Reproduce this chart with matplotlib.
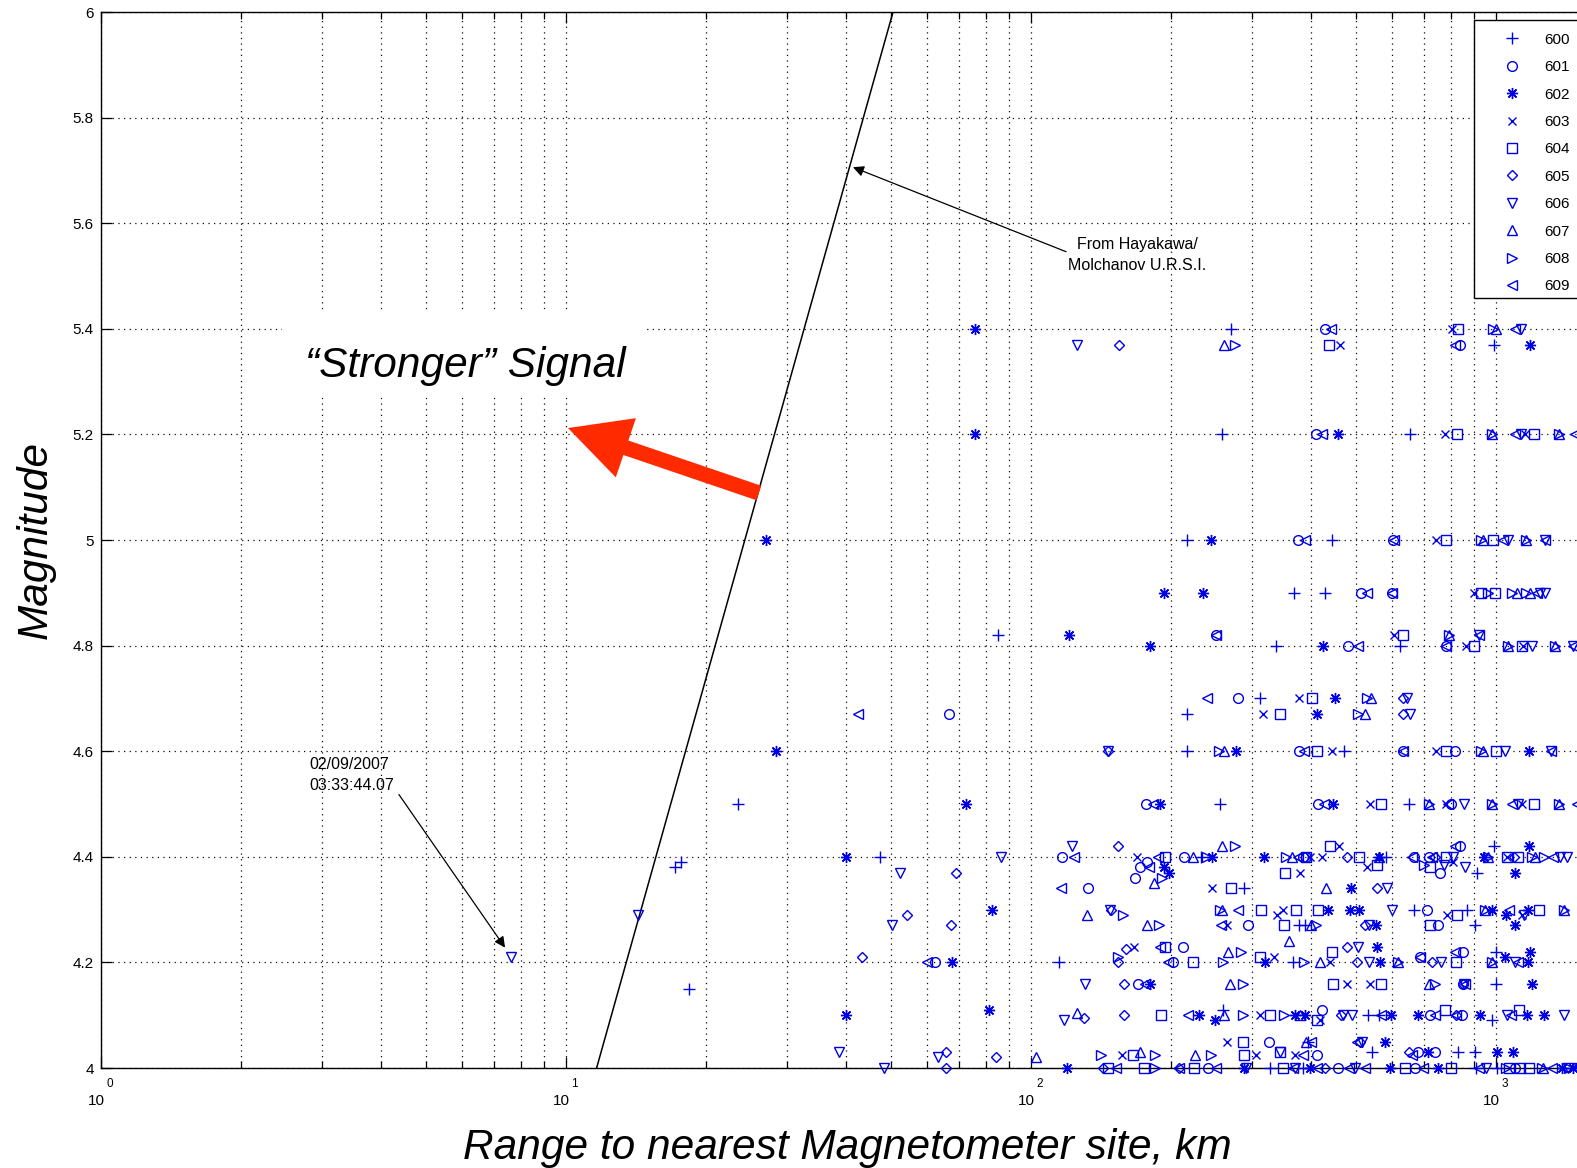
import matplotlib.pyplot as plt
from matplotlib.patches import Rectangle, FancyArrowPatch, ArrowStyle
from matplotlib.ticker import NullFormatter

plt.rcParams['font.family'] = ['Liberation Sans', 'DejaVu Sans']

# ---------------------------------------------------------------------------
# Data: range to nearest magnetometer site (km) and magnitude, per station
# ---------------------------------------------------------------------------
r600 = [270, 993, 258, 653, 217, 445, 368, 430, 85, 337, 622, 311, 217, 217, 473, 23.5, 255, 650, 993, 47.5,
        17.2, 17.7, 232, 580, 912, 18.4, 288, 868, 378, 905, 389, 668, 115, 366, 1000, 1000, 259, 532, 562, 981,
        395, 542, 832, 905, 327, 386, 907, 1008]
m600 = [5.40, 5.37, 5.20, 5.20, 5.00, 5.00, 4.90, 4.90, 4.82, 4.80, 4.80, 4.70, 4.67, 4.60, 4.60, 4.50, 4.50, 4.50, 4.42, 4.40,
        4.38, 4.39, 4.40, 4.40, 4.37, 4.15, 4.34, 4.30, 4.27, 4.27, 4.27, 4.30, 4.20, 4.20, 4.22, 4.16, 4.11, 4.10, 4.10, 4.09,
        4.05, 4.03, 4.03, 4.03, 4.00, 4.00, 4.00, 4.00]

r601 = [430, 840, 411, 376, 602, 513, 600, 250, 482, 783, 66.8, 279, 377, 631, 817, 177, 415, 800, 840, 117,
        214, 385, 392, 668, 719, 172, 168, 178, 759, 133, 712, 294, 753, 62.4, 202, 213, 688, 853, 170, 850,
        424, 724, 847, 325, 680, 741, 413, 241, 459, 670, 1100]
m601 = [5.40, 5.37, 5.20, 5.00, 5.00, 4.90, 4.90, 4.82, 4.80, 4.80, 4.67, 4.70, 4.60, 4.60, 4.60, 4.50, 4.50, 4.50, 4.42, 4.40,
        4.40, 4.40, 4.40, 4.40, 4.40, 4.38, 4.36, 4.39, 4.37, 4.34, 4.30, 4.27, 4.27, 4.20, 4.20, 4.23, 4.21, 4.22, 4.16, 4.16,
        4.11, 4.10, 4.10, 4.05, 4.03, 4.03, 4.025, 4.00, 4.00, 4.00, 4.00]

r602 = [76, 1186, 76, 458, 27, 244, 194, 235, 121, 181, 426, 412, 452, 28.4, 276, 1177, 72.6, 190, 448, 1181,
        40, 245, 318, 560, 944, 198, 194, 1100, 82.8, 488, 437, 487, 509, 981, 1055, 1176, 552, 1100, 67.9, 320,
        556, 564, 1047, 1186, 1176, 181, 1200, 40.1, 81.5, 230, 249, 370, 390, 595, 680, 926, 1166, 1268, 578, 716,
        1007, 1090, 120, 288, 398, 593, 752, 1390, 1470]
m602 = [5.40, 5.37, 5.20, 5.20, 5.00, 5.00, 4.90, 4.90, 4.82, 4.80, 4.80, 4.67, 4.70, 4.60, 4.60, 4.60, 4.50, 4.50, 4.50, 4.42,
        4.40, 4.40, 4.40, 4.40, 4.40, 4.37, 4.38, 4.37, 4.30, 4.34, 4.30, 4.30, 4.30, 4.30, 4.29, 4.30, 4.27, 4.27, 4.20, 4.20,
        4.23, 4.20, 4.21, 4.22, 4.20, 4.16, 4.16, 4.10, 4.11, 4.10, 4.09, 4.10, 4.10, 4.10, 4.10, 4.10, 4.10, 4.10, 4.05, 4.03,
        4.03, 4.03, 4.00, 4.00, 4.00, 4.00, 4.00, 4.00, 4.00]

r603 = [805, 462, 780, 1156, 746, 897, 605, 865, 1148, 377, 316, 444, 746, 537, 781, 1140, 460, 169, 398, 424,
        1059, 380, 530, 808, 246, 339, 349, 786, 1140, 265, 333, 440, 167, 478, 537, 311, 420, 264, 157, 305, 371]
m603 = [5.40, 5.37, 5.20, 5.20, 5.00, 4.90, 4.82, 4.80, 4.80, 4.70, 4.67, 4.60, 4.60, 4.50, 4.50, 4.50, 4.42, 4.40, 4.40, 4.40,
        4.40, 4.37, 4.38, 4.39, 4.34, 4.29, 4.30, 4.29, 4.29, 4.27, 4.21, 4.20, 4.23, 4.16, 4.16, 4.10, 4.09, 4.05, 4.025, 4.025, 4.025]

r604 = [832, 438, 824, 1208, 781, 988, 930, 995, 631, 897, 1140, 402, 344, 412, 781, 1000, 567, 1208, 440, 195,
        392, 509, 781, 1059, 1119, 353, 557, 723, 270, 313, 373, 415, 824, 1240, 351, 723, 311, 444, 223, 195,
        823, 448, 567, 191, 328, 412, 780, 1122, 286, 166, 288, 343, 147, 175, 225, 349, 638, 803, 1070, 1130, 1180]
m604 = [5.40, 5.37, 5.20, 5.20, 5.00, 5.00, 4.90, 4.90, 4.82, 4.80, 4.80, 4.70, 4.67, 4.60, 4.60, 4.60, 4.50, 4.50, 4.42, 4.40,
        4.40, 4.40, 4.40, 4.40, 4.40, 4.37, 4.385, 4.38, 4.34, 4.30, 4.30, 4.30, 4.29, 4.30, 4.27, 4.27, 4.21, 4.22, 4.20, 4.23,
        4.20, 4.16, 4.16, 4.10, 4.10, 4.09, 4.11, 4.11, 4.05, 4.025, 4.025, 4.03, 4.00, 4.00, 4.00, 4.00, 4.00, 4.00, 4.00, 4.00, 4.00]

r605 = [155, 154, 631, 631, 147, 479, 740, 1095, 69, 54.2, 67.5, 43.4, 65.8, 65.8, 84.2, 149, 523, 160, 154, 479,
        504, 731, 159, 850, 130, 159, 464, 820, 510, 143, 209, 430, 557, 650]
m605 = [5.37, 4.42, 4.67, 4.70, 4.60, 4.40, 4.40, 4.40, 4.37, 4.29, 4.27, 4.21, 4.03, 4.00, 4.02, 4.30, 4.27, 4.225, 4.20, 4.23,
        4.20, 4.20, 4.16, 4.16, 4.095, 4.10, 4.10, 4.10, 4.05, 4.00, 4.00, 4.00, 4.34, 4.03]

r606 = [1135, 125.6, 1135, 1064, 1277, 1245, 1280, 920, 1200, 1466, 645, 656, 147, 1050, 1318, 857, 1120, 123, 86.3, 810,
        1375, 1425, 52.3, 14.3, 50.3, 7.62, 38.8, 48.5, 63.1, 148, 584, 600, 1150, 533, 507, 535, 764, 1101, 131, 855,
        118, 470, 490, 1059, 1400, 515, 343, 290, 370, 499, 953, 1514, 861, 776, 1430]
m606 = [5.40, 5.37, 5.20, 5.00, 5.00, 4.90, 4.90, 4.82, 4.80, 4.80, 4.70, 4.67, 4.60, 4.60, 4.60, 4.50, 4.50, 4.42, 4.40, 4.40,
        4.40, 4.40, 4.37, 4.29, 4.27, 4.21, 4.03, 4.00, 4.02, 4.30, 4.34, 4.30, 4.29, 4.27, 4.23, 4.20, 4.20, 4.20, 4.16, 4.16,
        4.09, 4.10, 4.10, 4.10, 4.10, 4.05, 4.03, 4.00, 4.00, 4.00, 4.00, 4.00, 4.38, 4.385, 4.00]

r607 = [1002, 260, 981, 1371, 940, 1164, 1110, 1185, 795, 1064, 1340, 523, 540, 261, 940, 719, 981, 1371, 258, 224,
        365, 562, 961, 1215, 184, 132, 178, 258, 266, 359, 420, 617, 981, 268, 719, 126, 261, 380, 102.5, 172,
        226, 392, 432, 947, 1406, 400, 1265]
m607 = [5.40, 5.37, 5.20, 5.20, 5.00, 5.00, 4.90, 4.90, 4.82, 4.80, 4.80, 4.67, 4.70, 4.60, 4.60, 4.50, 4.50, 4.50, 4.42, 4.40,
        4.40, 4.40, 4.40, 4.40, 4.35, 4.29, 4.27, 4.30, 4.22, 4.24, 4.20, 4.20, 4.20, 4.16, 4.16, 4.105, 4.10, 4.10, 4.02, 4.03,
        4.025, 4.05, 4.34, 4.30, 4.30, 4.27, 4.00]

r608 = [986, 275, 981, 1371, 929, 1164, 961, 1084, 1160, 795, 1064, 1340, 505, 528, 254, 929, 719, 981, 1371, 275,
        239, 355, 961, 1196, 1270, 192, 158, 189, 255, 154, 284, 259, 387, 617, 981, 286, 740, 286, 350, 142,
        185, 244, 185, 1051, 1260, 1440, 410, 947, 1406, 700]
m608 = [5.40, 5.37, 5.20, 5.20, 5.00, 5.00, 4.90, 4.90, 4.90, 4.82, 4.80, 4.80, 4.67, 4.70, 4.60, 4.60, 4.50, 4.50, 4.50, 4.42,
        4.40, 4.40, 4.40, 4.40, 4.40, 4.36, 4.29, 4.27, 4.30, 4.21, 4.22, 4.20, 4.20, 4.20, 4.20, 4.16, 4.16, 4.10, 4.10, 4.025,
        4.025, 4.025, 4.00, 4.00, 4.00, 4.00, 4.27, 4.30, 4.30, 4.385]

r609 = [443, 1100, 817, 424, 1100, 1479, 390, 605, 1035, 1277, 528, 600, 1230, 250, 920, 505, 783, 1466, 42.5, 239,
        388, 631, 1318, 183, 428, 790, 1086, 1493, 817, 124, 188, 375, 661, 730, 1330, 180, 116, 279, 1066, 1560,
        257, 190, 197, 60, 688, 818, 1120, 176, 860, 218, 567, 740, 820, 1080, 400, 504, 386, 660, 153, 209,
        251, 367, 413, 484, 525, 697, 920, 1320]
m609 = [5.40, 5.40, 5.37, 5.20, 5.20, 5.20, 5.00, 5.00, 5.00, 5.00, 4.90, 4.90, 4.90, 4.82, 4.82, 4.80, 4.80, 4.80, 4.67, 4.70,
        4.60, 4.60, 4.60, 4.50, 4.50, 4.50, 4.50, 4.50, 4.42, 4.40, 4.40, 4.40, 4.40, 4.40, 4.40, 4.38, 4.34, 4.30, 4.30, 4.30,
        4.27, 4.23, 4.20, 4.20, 4.21, 4.22, 4.20, 4.16, 4.16, 4.10, 4.10, 4.10, 4.10, 4.10, 4.05, 4.05, 4.025, 4.025, 4.00, 4.00,
        4.00, 4.00, 4.00, 4.00, 4.00, 4.00, 4.00, 4.00]

stations = ['600', '601', '602', '603', '604', '605', '606', '607', '608', '609']
ranges = [r600, r601, r602, r603, r604, r605, r606, r607, r608, r609]
mags = [m600, m601, m602, m603, m604, m605, m606, m607, m608, m609]

# Hayakawa / Molchanov threshold line (two end points)
line_r = [11.66, 50.6]
line_m = [4.0, 6.0]

xtick_vals = [1, 10, 100, 1000]
xtick_base = ['10', '10', '10', '10']
xtick_exp = ['0', '1', '2', '3']
ytick_vals = [4, 4.2, 4.4, 4.6, 4.8, 5, 5.2, 5.4, 5.6, 5.8, 6]
ytick_labels = ['4', '4.2', '4.4', '4.6', '4.8', '5', '5.2', '5.4', '5.6', '5.8', '6']

# MATLAB-like markers: '+', 'o', '*', 'x', square, diamond, triangles
markers = ['+', 'o', (8, 2, 0), 'x', 's', 'D', 'v', '^', '>', '<']
msizes = [8, 7, 8, 6, 7, 5.5, 7, 7, 7, 7]
blue = '#0000e6'

fig = plt.figure(figsize=(15.77, 11.68), dpi=100)
ax = fig.add_axes([100.6 / 1577, 100 / 1168, 3.4 * 465 / 1577, 1056 / 1168])
ax.set_xscale('log')

for st, mk, ms, r, m in zip(stations, markers, msizes, ranges, mags):
    ax.plot(r, m, linestyle='none', marker=mk, ms=ms, mfc='none', mec=blue, mew=1.0,
            label=st, clip_on=False, zorder=3)

ax.plot(line_r, line_m, color='black', lw=1.1, zorder=2)

ax.set_xlim(1, 10 ** 3.4)
ax.set_ylim(4, 6)

# dotted MATLAB style grid
grid_style = dict(linestyle=(0, (1, 3.5)), color='0.05', lw=0.9)
ax.grid(True, which='major', axis='both', **grid_style)
ax.grid(True, which='minor', axis='x', **grid_style)

ax.set_yticks(ytick_vals)
ax.set_yticklabels(ytick_labels, fontsize=11)
ax.set_xticks(xtick_vals)
ax.set_xticklabels([''] * len(xtick_vals))
ax.xaxis.set_minor_formatter(NullFormatter())
ax.tick_params(which='both', direction='in', top=True, right=True, width=0.9)
ax.tick_params(which='major', length=8)
ax.tick_params(which='minor', length=5)
ax.tick_params(axis='y', pad=5)
for s in ax.spines.values():
    s.set_linewidth(1.0)

for v, b, e in zip(xtick_vals, xtick_base, xtick_exp):
    ax.annotate(b, xy=(v, 0), xycoords=('data', 'axes fraction'), xytext=(-4, -33),
                textcoords='offset pixels', ha='center', va='center', fontsize=11)
    ax.annotate(e, xy=(v, 0), xycoords=('data', 'axes fraction'), xytext=(9, -16),
                textcoords='offset pixels', ha='center', va='center', fontsize=8.5)

ax.set_xlabel('Range to nearest Magnetometer site, km', fontsize=30.5, style='italic')
ax.xaxis.set_label_coords((847 - 100.6) / 1581, -(1128 - 1068) / 1056)
ax.set_ylabel('Magnitude', fontsize=30.5, style='italic')
ax.yaxis.set_label_coords(-(100.6 - 56) / 1581, 0.5)

# legend box runs off the right edge of the figure, as in the original
fig.add_artist(Rectangle((1474 / 1577, 1 - 298 / 1168), 160 / 1577, 278 / 1168, transform=fig.transFigure,
                         facecolor='white', edgecolor='black', lw=1.0, zorder=1))
handles, labels = ax.get_legend_handles_labels()
leg = fig.legend(handles, labels, loc='upper left', bbox_to_anchor=(1468.5 / 1577, 1 - 20 / 1168),
                 bbox_transform=fig.transFigure, numpoints=1, fontsize=11, labelspacing=0.876,
                 borderpad=0.84, handlelength=4.0, handletextpad=0.15, frameon=False, borderaxespad=0)
leg.set_zorder(5)

# "Stronger" signal label with white box and red arrow
ax.add_patch(Rectangle((2.455, 5.275), 14.96 - 2.455, 0.155, facecolor='white', edgecolor='none', zorder=1.8))
ax.text(2.75, 5.33, '\u201cStronger\u201d Signal', fontsize=30.5, style='italic', ha='left', va='center', zorder=4)
red_arrow = FancyArrowPatch(posA=(26.04, 5.089), posB=(10.12, 5.212),
                            arrowstyle=ArrowStyle.Simple(head_length=44, head_width=45, tail_width=11),
                            mutation_scale=1, color='#ff2a00', lw=0, shrinkA=0, shrinkB=0, zorder=5)
ax.add_patch(red_arrow)

# annotations
ax.text(169.8, 5.54, 'From Hayakawa/\nMolchanov U.R.S.I.', fontsize=11.5, ha='center', va='center',
        linespacing=1.55, zorder=4)
ax.annotate('', xy=(41.5, 5.706), xytext=(119.2, 5.546),
            arrowprops=dict(arrowstyle='-|>', color='black', lw=0.9, mutation_scale=16, shrinkA=0, shrinkB=0))
ax.text(2.805, 4.555, '02/09/2007\n03:33:44.07', fontsize=11.5, ha='left', va='center', linespacing=1.55, zorder=4)
ax.annotate('', xy=(7.41, 4.228), xytext=(4.38, 4.518),
            arrowprops=dict(arrowstyle='-|>', color='black', lw=0.9, mutation_scale=16, shrinkA=0, shrinkB=0))

fig.savefig('out.png', dpi=100)
